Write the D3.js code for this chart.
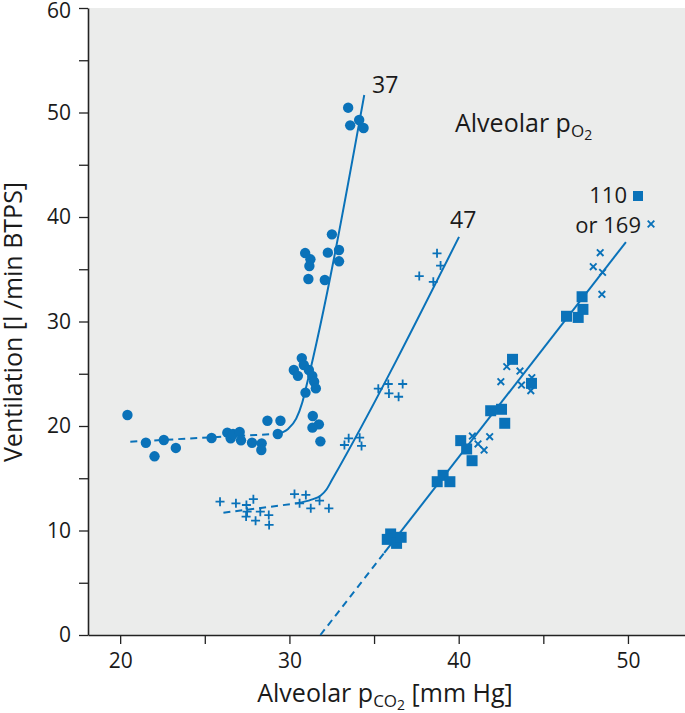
<!DOCTYPE html>
<html lang="en">
<head>
<meta charset="UTF-8">
<title>Ventilation vs alveolar pCO2</title>
<script src="https://d3js.org/d3.v7.min.js"></script>
<style>
  body { margin: 0; background: #fff; }
  svg text { font-family: "Open Sans", sans-serif; fill: #1a1a1a; }
</style>
</head>
<body>
<svg width="685" height="713"></svg>
<script>
// points: [alveolar pCO2 (mm Hg), ventilation (l/min BTPS)]
const po2_37 = [
  [20.43,21.05],[21.52,18.4],[22.03,17.1],[22.58,18.66],[23.29,17.9],[25.4,18.85],
  [26.33,19.36],[26.53,18.82],[26.67,19.23],[27.06,19.43],[27.14,18.63],[27.79,18.4],
  [28.36,18.34],[28.34,17.7],[28.7,20.5],[29.47,20.5],[29.31,19.23],[30.95,23.19],
  [30.26,25.36],[30.5,24.8],[30.73,26.5],[30.85,25.84],[31.15,25.36],[31.35,24.8],
  [31.46,24.24],[31.56,23.6],[31.38,20.96],[31.74,20.16],[31.36,19.84],[31.83,18.53],
  [33.47,50.46],[33.59,48.77],[34.12,49.28],[34.38,48.52],[32.51,38.34],[32.27,36.59],
  [32.93,36.84],[32.93,35.76],[30.93,36.55],[31.24,35.95],[31.18,35.31],[31.12,34.07],
  [32.09,33.97]
];
const po2_47 = [
  [25.9,12.76],[26.84,12.6],[27.46,12.44],[27.87,13.0],[27.5,11.8],[27.44,11.33],
  [28.0,10.94],[28.28,11.8],[28.78,11.48],[28.8,10.53],[30.3,13.49],[30.97,13.4],
  [30.6,12.6],[31.26,12.12],[31.78,12.85],[32.33,12.12],[33.25,18.18],[33.5,18.82],
  [34.15,18.88],[34.26,18.09],[35.25,23.57],[35.84,24.02],[35.88,23.12],[36.69,24.02],
  [36.45,22.8],[37.67,34.35],[38.5,33.8],[38.72,36.52],[38.93,35.35]
];
const po2_110 = [
  [35.98,9.67],[35.78,9.15],[36.33,8.77],[36.6,9.35],[38.73,14.67],[39.08,15.28],
  [39.48,14.67],[40.12,18.6],[40.47,17.8],[40.79,16.68],[41.89,21.46],[42.53,21.6],
  [42.72,20.26],[43.18,26.38],[44.3,24.08],[46.37,30.5],[47.06,30.39],[47.34,31.16],
  [47.29,32.37]
];
const po2_169 = [
  [40.81,19.04],[41.14,18.28],[41.5,17.7],[41.83,18.98],[42.49,24.24],[42.84,25.68],
  [43.62,25.26],[43.71,23.92],[44.26,23.38],[44.32,24.62],[47.95,35.24],[48.36,36.58],
  [48.5,34.7],[48.46,32.6]
];

// fitted response curves (dashed = extrapolated part)
const curve37Dashed = [[20.6,18.5],[29.3,19.25]];
const curve37Solid = [[29.3,19.25],[29.9,19.7],[30.4,20.7],[30.75,22.2],[31.0,23.8],[34.42,51.67]];
const curve47Dashed = [[26.1,11.7],[30.45,12.6]];
const curve47Solid = [[30.45,12.6],[31.3,12.95],[31.85,13.35],[32.2,13.95],[32.5,14.8],[40.02,38.1]];
const curve110Dashed = [[31.83,0],[35.6,7.85]];
const curve110Solid = [[35.6,7.85],[49.88,37.6]];

const xTickValues = [20,25,30,35,40,45,50];
const yTickValues = [0,5,10,15,20,25,30,35,40,45,50,55,60];

const blue = "#0a72b9";

const svg = d3.select("svg");
const x = d3.scaleLinear().domain([18.1, 53.37]).range([88, 685]);
const y = d3.scaleLinear().domain([0, 60]).range([635, 8]);

// plot background
svg.append("rect")
    .attr("x", x.range()[0]).attr("y", y(60))
    .attr("width", x.range()[1] - x.range()[0])
    .attr("height", y(0) - y(60))
    .attr("fill", "#ebeceb");

// axes
const xAxis = svg.append("g")
    .attr("transform", `translate(0,${y(0)})`)
    .call(d3.axisBottom(x).tickValues(xTickValues)
        .tickFormat(d => d % 10 === 0 ? d : "").tickSize(9).tickPadding(9).tickSizeOuter(0));
const yAxis = svg.append("g")
    .attr("transform", `translate(${x(18.1)},0)`)
    .call(d3.axisLeft(y).tickValues(yTickValues)
        .tickFormat(d => d % 10 === 0 ? d : "").tickSize(9).tickPadding(8).tickSizeOuter(0));

[xAxis, yAxis].forEach(g => {
  g.select(".domain").attr("stroke", "#222").attr("stroke-width", 1.6);
  g.selectAll(".tick line").attr("stroke", "#222").attr("stroke-width", 1.3);
  g.selectAll(".tick text").attr("font-size", 21).attr("fill", "#1a1a1a")
      .style("font-family", '"Open Sans", sans-serif');
});
// keep the top label inside the picture
yAxis.selectAll(".tick text").filter(d => d === 60).attr("dy", "0.45em");

// curves
const line = d3.line().x(d => x(d[0])).y(d => y(d[1])).curve(d3.curveMonotoneX);
[curve37Dashed, curve47Dashed, curve110Dashed].forEach(c => {
  svg.append("path").attr("d", line(c)).attr("fill", "none")
      .attr("stroke", blue).attr("stroke-width", 2).attr("stroke-dasharray", "7,5");
});
[curve37Solid, curve47Solid, curve110Solid].forEach(c => {
  svg.append("path").attr("d", line(c)).attr("fill", "none")
      .attr("stroke", blue).attr("stroke-width", 2);
});

// markers
svg.append("g").selectAll("circle").data(po2_37).join("circle")
    .attr("cx", d => x(d[0])).attr("cy", d => y(d[1])).attr("r", 5.2).attr("fill", blue);

svg.append("g").selectAll("path").data(po2_47).join("path")
    .attr("transform", d => `translate(${x(d[0])},${y(d[1])})`)
    .attr("d", "M-4.5,0H4.5M0,-4.5V4.5")
    .attr("stroke", blue).attr("stroke-width", 1.8).attr("fill", "none");

svg.append("g").selectAll("rect").data(po2_110).join("rect")
    .attr("x", d => x(d[0]) - 5.5).attr("y", d => y(d[1]) - 5.5)
    .attr("width", 11).attr("height", 11).attr("fill", blue);

svg.append("g").selectAll("path").data(po2_169).join("path")
    .attr("transform", d => `translate(${x(d[0])},${y(d[1])})`)
    .attr("d", "M-3.3,-3.3L3.3,3.3M-3.3,3.3L3.3,-3.3")
    .attr("stroke", blue).attr("stroke-width", 1.9).attr("fill", "none");

// curve labels
svg.append("text").attr("x", 372).attr("y", 93).attr("font-size", 23).text("37");
svg.append("text").attr("x", 450).attr("y", 228).attr("font-size", 23).text("47");
svg.append("text").attr("x", 627).attr("y", 203).attr("font-size", 22)
    .attr("text-anchor", "end").text("110");
svg.append("text").attr("x", 641).attr("y", 233).attr("font-size", 22)
    .attr("text-anchor", "end").text("or 169");
svg.append("rect").attr("x", 633).attr("y", 191).attr("width", 10).attr("height", 10).attr("fill", blue);
svg.append("path").attr("transform", "translate(651,224)")
    .attr("d", "M-3.3,-3.3L3.3,3.3M-3.3,3.3L3.3,-3.3")
    .attr("stroke", blue).attr("stroke-width", 1.9);

const po2Title = svg.append("text").attr("x", 455).attr("y", 132).attr("font-size", 25);
po2Title.append("tspan").text("Alveolar p");
po2Title.append("tspan").attr("font-size", 17).attr("dy", 5).text("O");
po2Title.append("tspan").attr("font-size", 14).attr("dy", 3).text("2");

// axis titles
const xTitle = svg.append("text").attr("x", 385).attr("y", 702)
    .attr("text-anchor", "middle").attr("font-size", 25);
xTitle.append("tspan").text("Alveolar p");
xTitle.append("tspan").attr("font-size", 17).attr("dy", 5).text("CO");
xTitle.append("tspan").attr("font-size", 14).attr("dy", 3).text("2");
xTitle.append("tspan").attr("dy", -8).text(" [mm Hg]");

svg.append("text")
    .attr("transform", "translate(22,322) rotate(-90)")
    .attr("text-anchor", "middle").attr("font-size", 25)
    .text("Ventilation [l /min BTPS]");
</script>
</body>
</html>
